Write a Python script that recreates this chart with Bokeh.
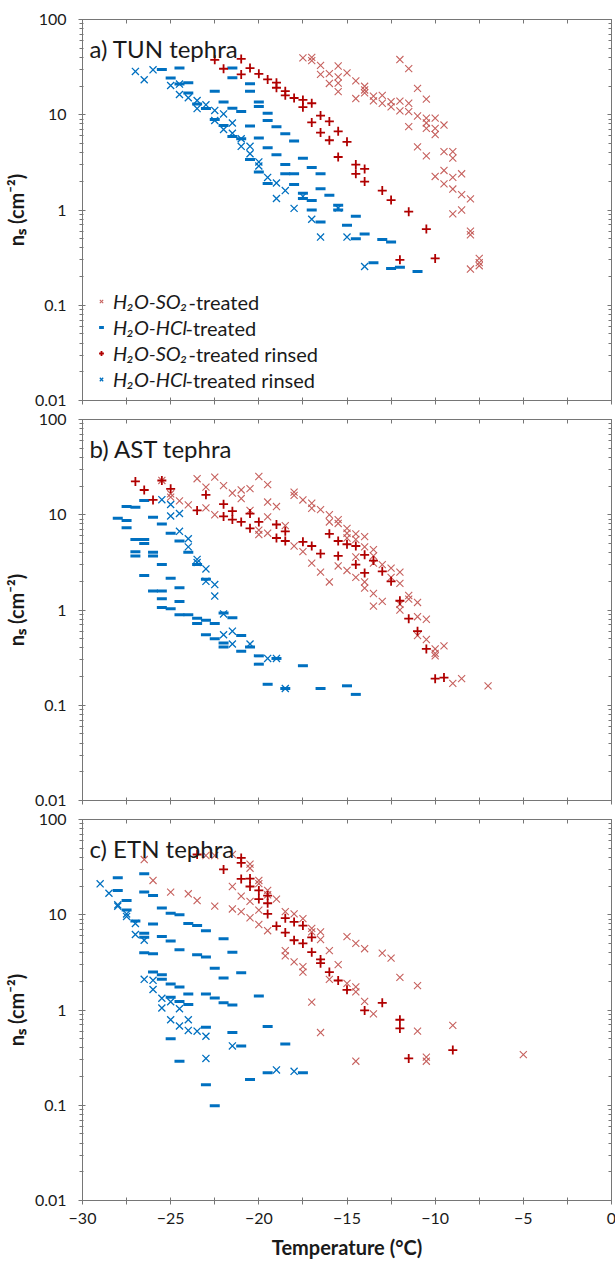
from bokeh.plotting import figure
from bokeh.models import (Range1d, FixedTicker, CustomJSTickFormatter, LinearAxis, LogAxis,
                          Legend, LegendItem, Label)
from bokeh.layouts import column
from bokeh.embed import file_html
from bokeh.resources import INLINE

# ---------------- data ----------------
series_chem = ["H\u2082O-SO\u2082", "H\u2082O-HCl", "H\u2082O-SO\u2082", "H\u2082O-HCl"]
series_suffix = ["-treated", "-treated", "-treated rinsed", "-treated rinsed"]
panel_titles = ["a) TUN tephra", "b) AST tephra", "c) ETN tephra"]
x_ticks = [-30, -25, -20, -15, -10, -5, 0]
y_ticks = [0.01, 0.1, 1, 10, 100]

# ---- a) TUN ----
tun_so2_T = [-17.5, -17.0, -17.0, -16.5, -16.5, -16.0, -16.0, -15.5, -15.5, -15.5, -15.5, -15.0, -14.5, -14.5,
             -14.0, -14.0, -14.0, -13.5, -13.5, -13.0, -13.0, -12.5, -12.5, -12.0, -12.0, -12.0, -11.5, -11.5,
             -11.5, -11.5, -11.0, -11.0, -11.0, -10.5, -10.5, -10.5, -10.5, -10.5, -10.0, -10.0, -10.0, -10.0,
             -9.5, -9.5, -9.5, -9.5, -9.0, -9.0, -9.0, -9.0, -9.0, -8.5, -8.5, -8.5, -8.0, -8.0, -8.0, -8.0,
             -7.5, -7.5, -7.5]
tun_so2_ns = [39.5, 40, 37, 33, 26.5, 27, 21.3, 32.5, 25, 21.5, 17.5, 27.5, 22.7, 14.8,
              19.9, 18.2, 17, 15.7, 14, 16, 13.2, 13.7, 12.1, 38, 13.9, 11.0, 30.5, 13.2,
              10.8, 7.5, 18.9, 9.7, 4.6, 14.6, 9.2, 8.2, 7.2, 3.7, 9.2, 7.2, 6.2, 2.25,
              7.8, 4.1, 2.6, 1.88, 4.1, 3.5, 2.2, 1.66, 0.91, 2.4, 1.45, 1.0, 1.31, 0.6, 0.55, 0.24,
              0.31, 0.28, 0.26]
tun_hcl_T = [-25.5, -25.0, -24.5, -24.5, -24.0, -24.0, -23.5, -23.0, -22.5, -22.5, -22.0, -22.0,
             -21.5, -21.5, -21.5, -21.5, -21.0, -21.0, -20.5, -20.5, -20.5, -20.5, -20.0, -20.0, -20.0, -20.0,
             -19.5, -19.5, -19.5, -19.5, -19.0, -19.0, -18.5, -18.5, -18.5, -18.0, -18.0, -18.0,
             -17.5, -17.5, -17.5, -17.0, -17.0, -17.0, -16.5, -16.5, -16.5, -16.0, -15.5, -15.5,
             -15.0, -14.5, -14.5, -14.0, -13.5, -13.0, -12.5, -12.5, -12.0, -11.0]
tun_hcl_ns = [29.9, 24.3, 30.9, 21.0, 21.7, 16.9, 13.0, 11.6, 17.6, 8.9, 13.6, 7.7,
              30.9, 24.4, 11.7, 5.9, 10.8, 5.6, 21.1, 17.7, 7.6, 3.4, 13.6, 12.2, 5.7, 2.5,
              10.4, 8.7, 4.5, 1.9, 7.5, 3.8, 6.3, 3.0, 2.4, 5.3, 2.4, 1.85,
              3.5, 1.5, 1.32, 2.8, 1.26, 1.0, 2.4, 1.67, 0.75, 1.43, 1.12, 1.0,
              0.69, 0.86, 0.5, 0.56, 0.28, 0.49, 0.46, 0.243, 0.25, 0.226]
tun_so2r_T = [-22.5, -22.0, -21.0, -21.0, -20.5, -20.0, -19.5, -19.0, -19.0, -18.5, -18.5, -18.0,
              -17.5, -17.5, -17.0, -17.0, -16.5, -16.5, -16.0, -16.0, -15.5, -15.5, -15.0, -14.5, -14.5,
              -14.0, -14.0, -13.0, -12.5, -11.5, -10.5, -12.0, -10.0]
tun_so2r_ns = [37.7, 30.4, 38.6, 26.5, 30.9, 26.9, 23.5, 21.7, 19.2, 17.7, 16.0, 15.0,
               14.3, 12.0, 13.2, 8.3, 9.8, 6.5, 8.5, 5.4, 6.7, 3.6, 5.2, 3.0, 2.4,
               2.7, 1.99, 1.6, 1.27, 0.96, 0.63, 0.30, 0.31]
tun_hclr_T = [-27.0, -26.5, -26.0, -25.0, -24.5, -24.5, -24.0, -23.5, -23.5, -23.0, -22.5, -22.5,
              -22.0, -22.0, -21.5, -21.5, -21.0, -21.0, -20.5, -20.5, -20.0, -20.0, -19.5, -19.0, -19.0,
              -18.5, -18.0, -17.5, -17.0, -16.5, -15.5, -15.0, -14.0]
tun_hclr_ns = [28.5, 23.3, 29.6, 20.3, 21.0, 16.3, 15.1, 14.1, 11.6, 12.7, 11.1, 8.7,
               10.2, 7.0, 8.2, 6.4, 4.66, 5.6, 4.66, 3.9, 3.2, 2.9, 2.2, 1.92, 1.32,
               1.6, 1.04, 1.39, 0.8, 0.52, 1.05, 0.52, 0.255]

# ---- b) AST ----
ast_so2_T = [-25.5, -25.0, -25.0, -24.5, -24.0, -23.5, -23.0, -23.0, -22.5, -22.5, -22.0, -21.5,
             -21.0, -21.0, -20.5, -20.5, -20.0, -20.0, -20.0, -19.5, -19.5, -19.5, -19.5, -19.0, -18.5,
             -18.0, -18.0, -18.0, -17.5, -17.5, -17.0, -17.0, -17.0, -16.5, -16.5, -16.0, -16.0, -16.0,
             -15.5, -15.5, -15.5, -15.0, -15.0, -15.0, -15.0, -14.5, -14.5, -14.5, -14.5,
             -14.0, -14.0, -14.0, -14.0, -13.5, -13.5, -13.5, -13.5, -13.5, -13.0, -13.0,
             -12.5, -12.5, -12.0, -12.0, -12.0, -12.0, -11.5, -11.5, -11.0, -11.0, -11.0,
             -10.5, -10.5, -10.0, -10.0, -10.0, -9.5, -9.0, -8.5, -7.0]
ast_so2_ns = [22.9, 16.6, 15.3, 14.0, 12.7, 23.9, 19.5, 11.8, 24.8, 10.0, 20.2, 16.9,
              18.2, 14.8, 18.8, 11.1, 25.2, 6.9, 6.2, 20.7, 13.6, 9.5, 6.4, 12.2, 7.7,
              17.3, 16.0, 4.7, 14.3, 4.1, 13.2, 11.7, 3.1, 11.3, 2.5, 10.0, 8.4, 1.97,
              8.9, 8.1, 2.9, 7.2, 6.4, 5.7, 2.6, 6.3, 5.5, 3.6, 2.2,
              5.9, 4.6, 1.97, 1.7, 4.3, 3.7, 3.1, 1.49, 1.1, 3.0, 1.23,
              2.75, 2.2, 2.5, 1.9, 1.15, 1.0, 1.42, 1.3, 1.2, 0.85, 0.54,
              0.8, 0.49, 0.39, 0.35, 0.33, 0.42, 0.17, 0.19, 0.16]
ast_hcl_T = [-28.0, -27.5, -27.5, -27.5, -27.0, -27.0, -27.0, -27.0, -26.5, -26.5, -26.5, -26.5,
             -26.0, -26.0, -26.0, -26.0, -25.5, -25.5, -25.5, -25.5, -25.5, -25.0, -25.0, -25.0,
             -24.5, -24.5, -24.5, -24.5, -24.0, -24.0, -23.5, -23.5, -23.5, -23.0, -23.0, -23.0,
             -22.5, -22.5, -22.0, -22.0, -22.0, -21.5, -21.0, -21.0, -20.5, -20.0, -20.0,
             -19.5, -19.0, -18.5, -17.5, -16.5, -15.0, -14.5]
ast_hcl_ns = [9.2, 12.2, 8.7, 7.3, 12.0, 5.5, 4.1, 3.7, 14.1, 5.5, 5.0, 2.3,
              9.4, 4.05, 3.7, 1.58, 8.0, 3.0, 1.58, 1.31, 1.06, 6.4, 2.16, 1.03,
              5.3, 1.71, 1.23, 0.89, 4.05, 0.89, 3.0, 0.82, 0.72, 2.1, 0.78, 0.55,
              0.72, 0.50, 0.93, 0.45, 0.41, 0.83, 0.54, 0.37, 0.41, 0.33, 0.27,
              0.166, 0.31, 0.15, 0.26, 0.15, 0.16, 0.13]
ast_so2r_T = [-27.0, -26.5, -26.0, -25.5, -25.0, -23.5, -23.0, -22.0, -22.0, -21.5, -21.5, -21.0,
              -20.5, -20.5, -20.0, -19.0, -19.0, -18.5, -18.5, -17.5, -17.0, -16.5, -16.0, -15.5, -15.5,
              -15.0, -14.5, -14.5, -14.0, -14.0, -13.5, -13.0, -12.5, -12.0, -11.5, -11.0, -10.5,
              -10.0, -9.5]
ast_so2r_ns = [22.4, 18.2, 14.3, 22.9, 18.7, 11.1, 16.2, 12.9, 9.6, 10.9, 8.9, 8.4,
               10.3, 7.2, 8.4, 7.9, 5.7, 6.7, 5.3, 5.2, 4.7, 3.9, 6.3, 5.3, 3.7,
               4.9, 4.7, 3.0, 3.8, 2.45, 3.3, 2.55, 2.0, 1.25, 0.81, 0.6, 0.39,
               0.19, 0.195]
ast_hclr_T = [-25.5, -25.0, -25.0, -24.5, -24.5, -24.0, -24.0, -23.5, -23.5, -23.0, -23.0,
              -22.5, -22.5, -22.0, -22.0, -21.5, -21.5, -20.5, -19.5, -19.0, -18.5]
ast_hclr_ns = [14.4, 12.8, 9.7, 10.3, 6.7, 5.6, 4.6, 3.4, 3.15, 2.7, 2.0,
               1.85, 1.4, 0.91, 0.55, 0.6, 0.44, 0.44, 0.31, 0.31, 0.15]

# ---- c) ETN ----
etn_so2_T = [-26.5, -26.0, -25.0, -24.0, -23.5, -23.0, -22.5, -22.5, -21.5, -21.5, -21.5, -21.0, -21.0,
             -20.5, -20.5, -20.5, -20.5, -20.0, -20.0, -20.0, -20.0, -19.5, -19.5, -19.5, -19.0,
             -18.5, -18.5, -18.5, -18.0, -18.0, -17.5, -17.5, -17.5, -17.0, -17.0, -17.0,
             -16.5, -16.5, -16.5, -16.0, -16.0, -15.5, -15.0, -15.0, -14.5, -14.5, -14.5, -14.5,
             -14.0, -14.0, -13.5, -13.0, -12.5, -12.0, -11.0, -11.0, -10.5, -10.5, -9.0, -5.0]
etn_so2_ns = [38, 22.9, 17.3, 16.6, 14.1, 41.9, 41.9, 12.3, 43, 19.8, 11.5, 15.7, 10.8,
              34, 30.8, 13.8, 9.3, 22.9, 21.2, 11.2, 7.9, 18, 16.2, 6.8, 14.6,
              10.8, 4.2, 3.7, 10.2, 3.2, 9.1, 2.85, 2.5, 7.2, 6.6, 1.21,
              6.6, 5.5, 0.58, 4.2, 2.1, 3.0, 5.9, 1.9, 5.0, 1.75, 1.55, 0.29,
              4.4, 1.23, 0.91, 3.95, 3.5, 2.2, 1.8, 0.6, 0.32, 0.29, 0.69, 0.34]
etn_hcl_T = [-28.0, -28.0, -27.5, -27.5, -27.0, -26.5, -26.5, -26.5, -26.5, -26.5,
             -26.0, -26.0, -26.0, -26.0, -25.5, -25.5, -25.5, -25.5, -25.0, -25.0, -25.0, -25.0, -25.0,
             -24.5, -24.5, -24.5, -24.5, -24.5, -24.0, -24.0, -24.0, -23.5, -23.5,
             -23.0, -23.0, -23.0, -23.0, -23.0, -22.5, -22.5, -22.5, -22.0, -22.0, -22.0,
             -21.5, -21.5, -21.5, -21.0, -21.0, -20.5, -20.0, -19.5, -19.5, -18.5, -17.5]
etn_hcl_ns = [24.4, 18, 14.1, 11.2, 8.6, 26.9, 17.3, 6.4, 5.8, 4.0,
              15.9, 8.0, 3.9, 2.5, 11.8, 5.9, 2.35, 2.1, 10.4, 5.3, 1.88, 1.36, 0.5,
              10.0, 4.3, 1.74, 1.23, 0.29, 8.1, 1.47, 1.14, 7.7, 3.8,
              6.8, 3.6, 1.47, 0.66, 0.164, 2.75, 1.34, 0.099, 5.6, 2.17, 1.19,
              4.05, 1.13, 0.58, 2.46, 0.42, 0.186, 1.4, 0.67, 0.22, 0.44, 0.22]
etn_so2r_T = [-23.5, -22.0, -21.0, -21.0, -21.0, -20.5, -20.5, -20.0, -20.0, -19.5, -19.5, -19.5,
              -19.0, -18.5, -18.5, -18.0, -18.0, -17.5, -17.5, -17.0, -17.0, -16.5, -16.5,
              -16.0, -15.5, -15.0, -14.0, -13.0, -12.0, -12.0, -11.5, -9.0]
etn_so2r_ns = [42.9, 29.9, 39.5, 35, 23.8, 24, 19.8, 18, 14.6, 15.9, 13.2, 10.2,
               7.6, 9.2, 6.5, 8.4, 5.4, 7.7, 5.0, 5.8, 4.05, 3.4, 3.1,
               2.5, 2.04, 1.63, 0.99, 1.19, 0.79, 0.64, 0.31, 0.38]
etn_hclr_T = [-29.0, -28.5, -28.0, -28.0, -27.5, -27.5, -27.0, -27.0, -26.5, -26.5, -26.0, -26.0,
              -25.5, -25.5, -25.0, -25.0, -24.5, -24.5, -24.0, -24.0, -23.5, -23.0, -23.0,
              -21.5, -19.0, -18.0]
etn_hclr_ns = [21.1, 16.8, 12.7, 12.3, 10.2, 9.6, 8.1, 6.2, 5.4, 2.1, 2.05, 1.64,
               1.33, 1.05, 1.22, 0.79, 1.03, 0.68, 0.79, 0.61, 0.6, 0.53, 0.31,
               0.42, 0.235, 0.227]

# ---------------- styling ----------------
FONT = "Lato"
AX = "#767676"
TXT = "#1a1a1a"
C_SO2 = "#C0504D"
C_SO2R = "#B00000"
C_HCL = "#0070C0"
FW, FH = 529, 381            # frame size in px
PX_T = FW / 30.0             # px per degree
PX_DEC = FH / 4.0            # px per decade

y_minor = [m * 10.0 ** e for e in range(-2, 2) for m in range(2, 10)]
x_minor = [t + 2.5 for t in x_ticks[:-1]]
yfmt = CustomJSTickFormatter(code="""
const e = Math.round(Math.log10(tick));
return e >= 0 ? Math.pow(10, e).toFixed(0) : Math.pow(10, e).toFixed(-e);
""")


def sx(px):      # screen offset from frame left -> data x
    return -30 + px / PX_T


def sy(py):      # screen offset from frame bottom -> data y (log)
    return 10 ** (-2 + py / PX_DEC)


def style_axis(ax):
    ax.axis_line_color = AX
    ax.major_tick_line_color = AX
    ax.minor_tick_line_color = AX
    ax.major_label_text_font = FONT
    ax.major_label_text_color = TXT
    ax.axis_label_text_font = FONT
    ax.axis_label_text_color = TXT


def hide_labels(ax):
    ax.major_label_text_font_size = "1px"
    ax.major_label_text_color = None
    ax.major_label_standoff = 0


def make_panel(title, data, top, bottom, show_xlabels, legend=False):
    p = figure(frame_width=FW, frame_height=FH, x_range=Range1d(-30, 0), y_range=Range1d(0.01, 100),
               y_axis_type="log", output_backend="svg", toolbar_location=None,
               min_border_left=81, min_border_right=5, min_border_top=top, min_border_bottom=bottom,
               background_fill_color="white", border_fill_color="white")
    p.grid.visible = False
    p.outline_line_color = AX
    p.outline_line_width = 1

    xa = p.xaxis[0]
    style_axis(xa)
    xa.ticker = FixedTicker(ticks=x_ticks, minor_ticks=x_minor)
    xa.major_tick_in = 3
    xa.major_tick_out = 4
    xa.minor_tick_in = 3
    xa.minor_tick_out = 4
    if show_xlabels:
        xa.major_label_text_font_size = "16px"
        xa.major_label_standoff = 8
        xa.axis_label = "Temperature (\u00b0C)"
        xa.axis_label_text_font_size = "20px"
        xa.axis_label_text_font_style = "bold"
        xa.axis_label_standoff = 8
    else:
        hide_labels(xa)

    ya = p.yaxis[0]
    style_axis(ya)
    ya.ticker = FixedTicker(ticks=y_ticks, minor_ticks=y_minor)
    ya.formatter = yfmt
    ya.major_label_text_font_size = "16px"
    ya.major_tick_in = 3
    ya.major_tick_out = 4
    ya.minor_tick_in = 1
    ya.minor_tick_out = 3
    ya.major_label_standoff = 12
    ya.axis_label = "n\u209b (cm\u207b\u00b2)"
    ya.axis_label_text_font_size = "20px"
    ya.axis_label_text_font_style = "bold"
    ya.axis_label_standoff = 4

    ra = LogAxis(ticker=FixedTicker(ticks=y_ticks, minor_ticks=y_minor), formatter=yfmt,
                 major_tick_in=4, major_tick_out=0, minor_tick_in=3, minor_tick_out=0)
    style_axis(ra)
    hide_labels(ra)
    p.add_layout(ra, "right")
    ta = LinearAxis(ticker=FixedTicker(ticks=x_ticks, minor_ticks=x_minor),
                    major_tick_in=4, major_tick_out=0, minor_tick_in=4, minor_tick_out=0)
    style_axis(ta)
    hide_labels(ta)
    p.add_layout(ta, "above")

    (so2_T, so2_ns), (hcl_T, hcl_ns), (so2r_T, so2r_ns), (hclr_T, hclr_ns) = data
    r_hcl = p.scatter(hcl_T, hcl_ns, marker="dash", size=10, line_color=C_HCL, line_width=3)
    r_hclr = p.scatter(hclr_T, hclr_ns, marker="x", size=10, line_color=C_HCL, line_width=1.3)
    r_so2 = p.scatter(so2_T, so2_ns, marker="x", size=10, line_color=C_SO2, line_width=1.1, line_alpha=0.9)
    r_so2r = p.scatter(so2r_T, so2r_ns, marker="cross", size=9, line_color=C_SO2R, line_width=1.8)

    p.add_layout(Label(x=sx(7), y=sy(FH - 29), text=title, text_font=FONT, text_font_size="24px",
                       text_color=TXT, text_baseline="alphabetic", text_align="left"))

    if legend:
        rends = [r_so2, r_hcl, r_so2r, r_hclr]
        items = [LegendItem(label=series_chem[i], renderers=[rends[i]]) for i in range(4)]
        leg = Legend(items=items, location=(13, 8), orientation="vertical", glyph_width=12, glyph_height=26,
                     label_height=26, label_standoff=6, spacing=0, padding=0, margin=0,
                     border_line_color=None, background_fill_alpha=0, label_text_font=FONT,
                     label_text_font_size="20px", label_text_color=TXT, label_text_font_style="italic")
        p.add_layout(leg)
        chem_w = [75, 72, 75, 72]  # approx. px width of italic part
        for i in range(4):
            yc = 8 + 13 + 26 * (3 - i)
            p.add_layout(Label(x=sx(31 + chem_w[i]), y=sy(yc), text=series_suffix[i], text_font=FONT,
                               text_font_size="20px", text_color=TXT, text_baseline="middle",
                               text_align="left"))
    return p


pa = make_panel(panel_titles[0], [(tun_so2_T, tun_so2_ns), (tun_hcl_T, tun_hcl_ns),
                                  (tun_so2r_T, tun_so2r_ns), (tun_hclr_T, tun_hclr_ns)], 19, 9, False, legend=True)
pb = make_panel(panel_titles[1], [(ast_so2_T, ast_so2_ns), (ast_hcl_T, ast_hcl_ns),
                                  (ast_so2r_T, ast_so2r_ns), (ast_hclr_T, ast_hclr_ns)], 10, 9, False)
pc = make_panel(panel_titles[2], [(etn_so2_T, etn_so2_ns), (etn_hcl_T, etn_hcl_ns),
                                  (etn_so2r_T, etn_so2r_ns), (etn_hclr_T, etn_hclr_ns)], 10, 62, True)

layout = column(pa, pb, pc, spacing=0)
open("out.html", "w").write(file_html(layout, INLINE))
